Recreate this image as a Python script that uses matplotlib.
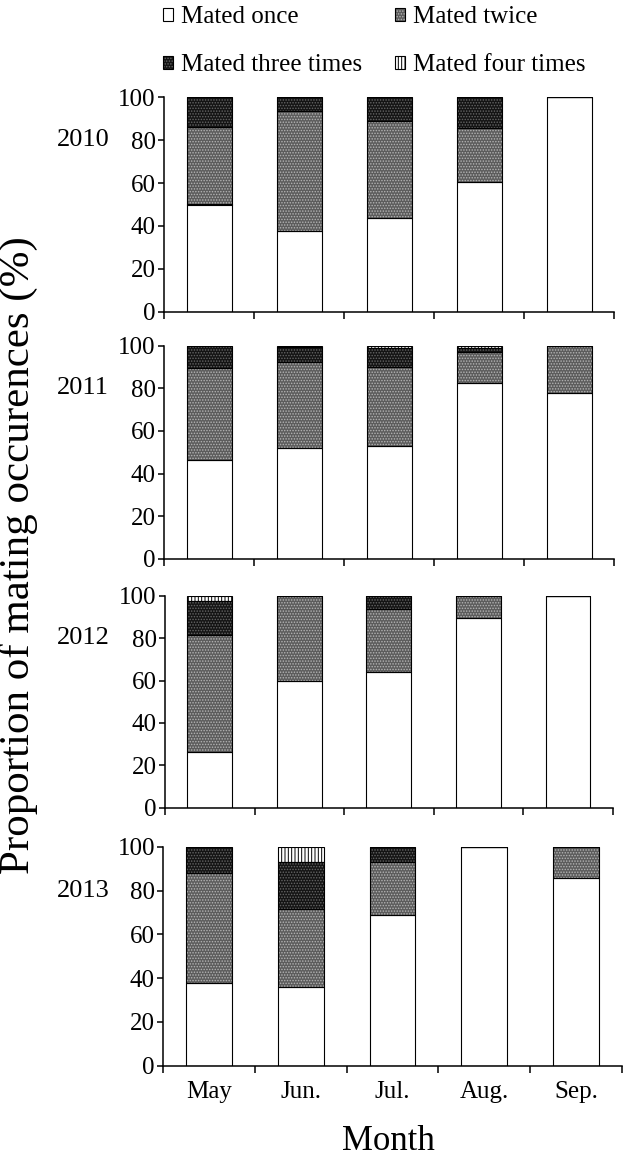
#!/usr/bin/env python3
import matplotlib
matplotlib.use("Agg")
import matplotlib.pyplot as plt
import matplotlib.transforms as mtransforms
from matplotlib.patches import Patch
from matplotlib.legend_handler import HandlerTuple

months = ["May", "Jun.", "Jul.", "Aug.", "Sep."]
years = ["2010", "2011", "2012", "2013"]
series_names = ["Mated once", "Mated twice", "Mated three times", "Mated four times"]

# proportions (%), one list per year and mating class
once_2010 = [50.0, 37.6, 43.5, 60.7, 100.0]
twice_2010 = [36.3, 56.0, 45.6, 24.8, 0.0]
three_2010 = [13.7, 6.4, 10.9, 14.5, 0.0]
four_2010 = [0.0, 0.0, 0.0, 0.0, 0.0]

once_2011 = [46.3, 51.8, 52.9, 82.3, 77.6]
twice_2011 = [43.1, 40.7, 37.2, 14.9, 22.4]
three_2011 = [10.6, 7.0, 8.6, 1.9, 0.0]
four_2011 = [0.0, 0.5, 1.3, 0.9, 0.0]

once_2012 = [26.4, 59.7, 64.2, 89.6, 100.0]
twice_2012 = [55.0, 40.3, 29.4, 10.4, 0.0]
three_2012 = [16.1, 0.0, 6.4, 0.0, 0.0]
four_2012 = [2.5, 0.0, 0.0, 0.0, 0.0]

once_2013 = [37.6, 35.8, 68.8, 100.0, 85.8]
twice_2013 = [50.2, 35.6, 24.4, 0.0, 14.2]
three_2013 = [12.2, 21.8, 6.8, 0.0, 0.0]
four_2013 = [0.0, 6.8, 0.0, 0.0, 0.0]

data = {
    "2010": [once_2010, twice_2010, three_2010, four_2010],
    "2011": [once_2011, twice_2011, three_2011, four_2011],
    "2012": [once_2012, twice_2012, three_2012, four_2012],
    "2013": [once_2013, twice_2013, three_2013, four_2013],
}

# (facecolor, hatch, hatch colour)
styles = [
    ("white", None, None),
    ("#5c5c5c", "......", "#b4b4b4"),
    ("#141414", "......", "#666666"),
    ("white", "|||||", "black"),
]

W, H = 625, 1160
# panel boxes in pixels: left, right, top, bottom
boxes = [
    (164, 614, 97.3, 311.7),
    (164, 614, 345.7, 558.7),
    (165, 612.7, 595.7, 807.7),
    (163.3, 621.7, 846.7, 1065.7),
]

plt.rcParams["font.family"] = ["Liberation Serif", "DejaVu Serif"]
plt.rcParams["hatch.linewidth"] = 0.7


def draw_panel(ax, values):
    x = range(len(months))
    bottom = [0.0] * len(months)
    for vals, (fc, hatch, hc) in zip(values, styles):
        if hatch:
            ax.bar(x, vals, 0.5, bottom=bottom, color=fc, hatch=hatch,
                   edgecolor=hc, linewidth=0, zorder=2)
        else:
            ax.bar(x, vals, 0.5, bottom=bottom, color=fc, linewidth=0, zorder=2)
        ax.bar(x, vals, 0.5, bottom=bottom, fill=False, edgecolor="black",
               linewidth=0.8, zorder=3)
        bottom = [b + v for b, v in zip(bottom, vals)]

    ax.set_xlim(-0.5, len(months) - 0.5)
    ax.set_ylim(0, 100)
    ax.set_yticks(range(0, 101, 20))
    ax.set_xticks([i - 0.5 for i in range(len(months) + 1)])
    ax.set_xticklabels([])
    for s in ["top", "right"]:
        ax.spines[s].set_visible(False)
    for s in ["left", "bottom"]:
        ax.spines[s].set_linewidth(1.1)
    ax.tick_params(axis="y", direction="out", length=4, width=1.1, pad=2, labelsize=18)
    ax.tick_params(axis="x", which="major", direction="out", length=5, width=1.1)


def main():
    fig = plt.figure(figsize=(W / 100, H / 100), dpi=100)
    axes = []
    for (l, r, t, b), yr in zip(boxes, years):
        ax = fig.add_axes([l / W, 1 - b / H, (r - l) / W, (b - t) / H])
        draw_panel(ax, data[yr])
        trans = mtransforms.blended_transform_factory(fig.transFigure, ax.transData)
        ax.text(83 / W, 80, yr, transform=trans, ha="center", va="center", fontsize=19)
        axes.append(ax)

    last = axes[-1]
    last.set_xticks(range(len(months)), minor=True)
    last.set_xticklabels(months, minor=True)
    last.tick_params(axis="x", which="minor", length=0, pad=11, labelsize=18)

    fig.text(388 / W, 1 - 1141 / H, "Month", ha="center", va="center", fontsize=25)
    fig.text(18 / W, 1 - 555 / H, "Proportion of mating occurences (%)",
             rotation=90, ha="center", va="center", fontsize=31)

    handles = []
    for fc, hatch, hc in styles:
        if hatch:
            fill = Patch(facecolor=fc, hatch=hatch, edgecolor=hc, linewidth=0)
        else:
            fill = Patch(facecolor=fc, linewidth=0)
        edge = Patch(fill=False, edgecolor="black", linewidth=0.8)
        handles.append((fill, edge))
    # legend fills column by column, so swap to get once/twice on the first row
    order = [0, 2, 1, 3]
    fig.legend([handles[i] for i in order], [series_names[i] for i in order],
               handler_map={tuple: HandlerTuple(ndivide=1)},
               loc="upper left", bbox_to_anchor=(163 / W, 1 - 6 / H), ncol=2,
               frameon=False, fontsize=18, handlelength=0.42, handleheight=0.42,
               handletextpad=0.3, columnspacing=1.3, labelspacing=1.05,
               borderpad=0, borderaxespad=0)

    fig.savefig("out.png", dpi=100)
    plt.close(fig)
    return 0


if __name__ == "__main__":
    raise SystemExit(main())
